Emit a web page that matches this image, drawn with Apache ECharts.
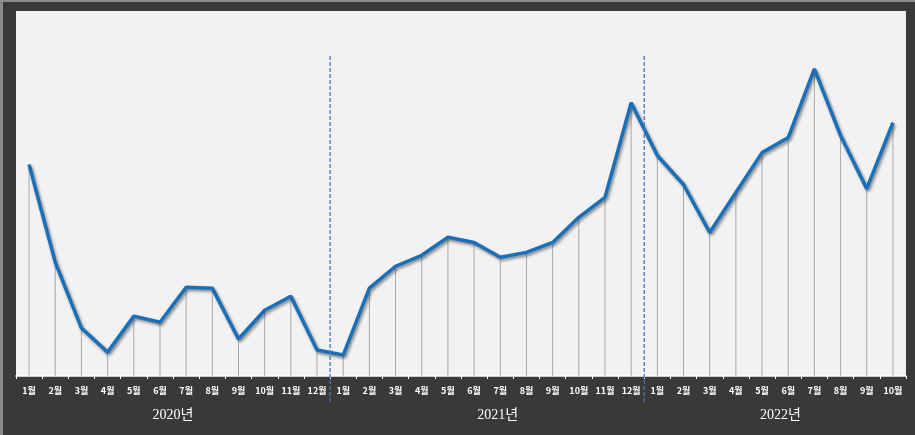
<!DOCTYPE html>
<html><head><meta charset="utf-8">
<script src="https://cdn.jsdelivr.net/npm/echarts@6/dist/echarts.min.js"></script>
<style>html,body{margin:0;padding:0;background:#3a3937;}#c{width:915px;height:435px;}</style>
</head><body><div id="c"></div>
<script>
const months = ['1월','2월','3월','4월','5월','6월','7월','8월','9월','10월','11월','12월',
  '1월','2월','3월','4월','5월','6월','7월','8월','9월','10월','11월','12월',
  '1월','2월','3월','4월','5월','6월','7월','8월','9월','10월'];
const values = [86.9,46.7,19.7,9.8,24.6,22.1,36.5,36.1,15.2,27.0,32.8,10.7,
  8.6,36.1,45.1,49.6,57.0,54.9,48.8,50.8,54.9,65.2,73.4,112.3,
  90.6,78.7,59.0,75.4,91.8,98.0,126.2,98.8,77.0,104.1];
const years = ['2020년','2021년','2022년'];
const yearCenters = [5.5, 17.9, 28.7];
const separators = [11.5, 23.5];

const chart = echarts.init(document.getElementById('c'));
chart.setOption({
  backgroundColor: '#3a3937',
  animation: false,
  graphic: [
    {type:'rect', shape:{x:0,y:0,width:915,height:2}, style:{fill:'#8a8a8a'}, silent:true},
    {type:'rect', shape:{x:0,y:0,width:3,height:435}, style:{fill:'#8a8a8a'}, silent:true}
  ],
  grid: {left:16, right:9, top:11, bottom:59, show:true, backgroundColor:'#f2f2f2', borderWidth:0},
  xAxis: {
    type:'category', data: months, boundaryGap:true,
    axisLine:{lineStyle:{color:'#ffffff', width:1.5}},
    axisTick:{show:true, interval:0, length:3, lineStyle:{color:'#ffffff'}},
    axisLabel:{interval:0, color:'#ffffff', fontSize:9, fontWeight:'bold', fontFamily:'Noto Sans CJK KR', margin:10}
  },
  yAxis: {type:'value', min:0, max:150, show:false, splitLine:{show:false}},
  series: [
    {type:'bar', data: values, barWidth:1, itemStyle:{color:'#a9a9a9'}, silent:true, z:1},
    {type:'line', data: values, showSymbol:false, symbol:'none', z:3,
      lineStyle:{color:'#1a6fbb', width:3.5, shadowColor:'rgba(0,0,0,0.45)', shadowBlur:3, shadowOffsetX:1.5, shadowOffsetY:2}},
    {type:'custom', data: separators.map(s=>[s]), clip:false, silent:true, z:4,
      renderItem: function(params, api){
        const s = api.value(0);
        const a = api.coord([Math.floor(s), 131.5]);
        const b = api.coord([Math.ceil(s), 0]);
        const x = (a[0]+b[0])/2;
        return {type:'line', shape:{x1:x, y1:a[1], x2:x, y2:b[1]+28},
          style:{stroke:'#4472c4', lineWidth:1.3, lineDash:[4,2]}};
      }},
    {type:'custom', data: yearCenters.map((c,i)=>[c,i]), clip:false, silent:true, z:4,
      renderItem: function(params, api){
        const c = api.value(0);
        const a = api.coord([Math.floor(c), 0]);
        const b = api.coord([Math.floor(c)+1, 0]);
        const x = a[0] + (b[0]-a[0])*(c-Math.floor(c));
        return {type:'text', x:x, y:a[1]+39,
          style:{text: years[api.value(1)], fill:'#ffffff', fontSize:14, fontFamily:'Liberation Serif, Noto Sans CJK KR', align:'center', verticalAlign:'middle'}};
      }}
  ]
});
</script></body></html>
